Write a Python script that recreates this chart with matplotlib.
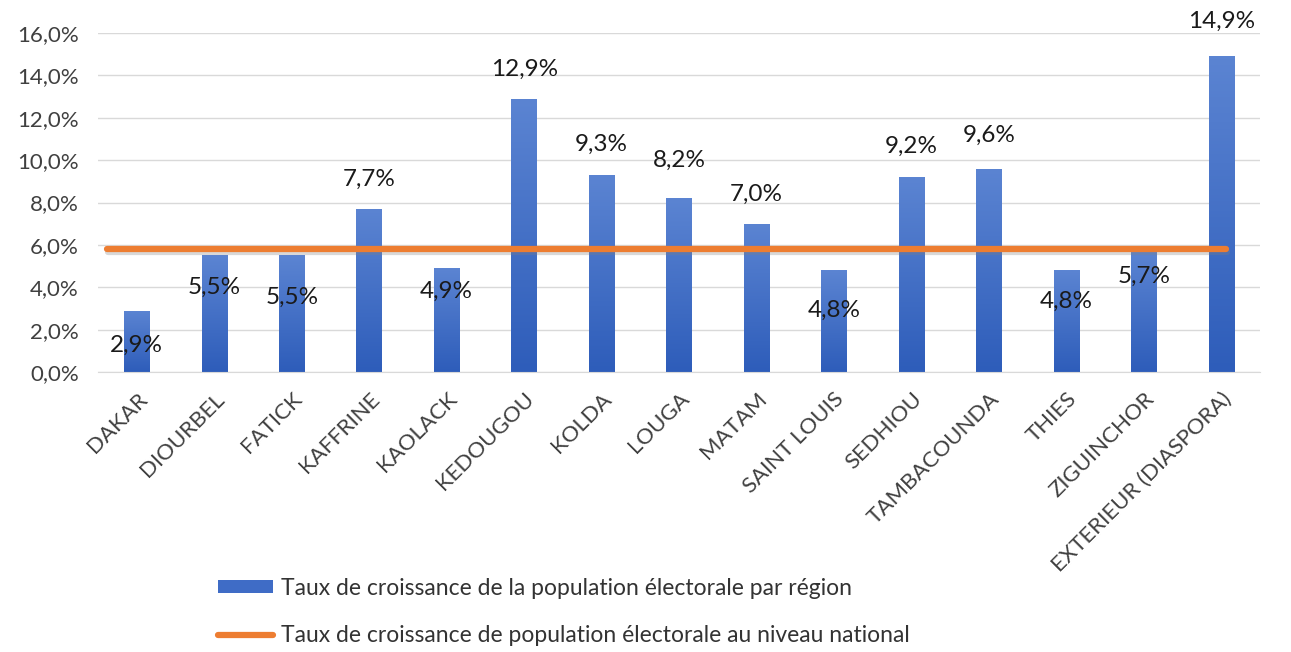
import numpy as np
import matplotlib.pyplot as plt
import matplotlib.transforms as mtransforms
from matplotlib.colors import LinearSegmentedColormap
from matplotlib.ticker import FuncFormatter

# Données
regions = ["DAKAR", "DIOURBEL", "FATICK", "KAFFRINE", "KAOLACK", "KEDOUGOU", "KOLDA",
           "LOUGA", "MATAM", "SAINT LOUIS", "SEDHIOU", "TAMBACOUNDA", "THIES",
           "ZIGUINCHOR", "EXTERIEUR (DIASPORA)"]
taux_region = [2.9, 5.5, 5.5, 7.7, 4.9, 12.9, 9.3, 8.2, 7.0, 4.8, 9.2, 9.6, 4.8, 5.7, 14.9]
taux_national = 5.8

# décalage vertical des étiquettes (en points), comme sur l'original
decalage_etiquettes = [-25, -23, -30, 21, -17, 21, 22, 27, 21, -29, 22, 24, -22, -18, 25]

plt.rcParams['font.family'] = ['Lato', 'DejaVu Sans']

fig = plt.figure(figsize=(12.91, 6.52), dpi=100)
ax = fig.add_axes([0.076, 0.4294, 0.9, 0.5200])

x = np.arange(len(regions))
barres = ax.bar(x, taux_region, width=0.33, color='#3F6CC6', zorder=2,
                label="Taux de croissance de la population électorale par région")

# dégradé vertical dans les barres
degrade = np.linspace(0, 1, 100).reshape(-1, 1)
cmap = LinearSegmentedColormap.from_list('bleu', ['#2E5DBA', '#5B84D2'])
for b in barres:
    bx, by = b.get_x(), b.get_y()
    im = ax.imshow(degrade, cmap=cmap, aspect='auto', origin='lower',
                   extent=[bx, bx + b.get_width(), by, by + b.get_height()], zorder=2.1)
    im.set_clip_path(b)

# ligne nationale (avec ombre légère)
ombre = ax.transData + mtransforms.ScaledTranslation(1 / 100, -2.5 / 100, fig.dpi_scale_trans)
ax.plot([-0.39, 14.06], [taux_national, taux_national], color='#808080', lw=4.5,
        solid_capstyle='round', alpha=0.3, zorder=2.9, transform=ombre)
ligne, = ax.plot([-0.39, 14.06], [taux_national, taux_national], color='#ED7D31', lw=4.5,
                 solid_capstyle='round', zorder=3,
                 label="Taux de croissance de population électorale au niveau national")

# étiquettes
for xi, v, d in zip(x, taux_region, decalage_etiquettes):
    ax.annotate(f"{v:.1f}%".replace('.', ','), (xi, v), xytext=(0, d),
                textcoords='offset points', ha='center', va='center',
                fontsize=17.5, color='#1a1a1a', zorder=4, annotation_clip=False)

ax.set_xlim(-0.5, 14.5)
ax.set_ylim(0, 16)
ax.set_yticks(np.arange(0, 17, 2))
ax.yaxis.set_major_formatter(FuncFormatter(lambda v, p: f"{v:.1f}%".replace('.', ',')))
ax.set_xticks(x)
ax.set_xticklabels(regions, rotation=45, ha='right', rotation_mode='anchor')
ax.tick_params(axis='both', length=0, labelsize=16, colors='#404040')
ax.tick_params(axis='x', pad=12)
ax.tick_params(axis='y', pad=14)
ax.grid(axis='y', color='#D9D9D9', lw=1, zorder=0)
for s in ['top', 'right', 'left']:
    ax.spines[s].set_visible(False)
ax.spines['bottom'].set_color('#D9D9D9')

fig.legend(handles=[barres, ligne], loc='upper left', bbox_to_anchor=(0.153, 0.145),
           frameon=False, fontsize=16.5, handlelength=2.4, handleheight=0.5,
           labelspacing=1.15, handletextpad=0.35, labelcolor='#333333')

fig.savefig('out.png', dpi=100)
